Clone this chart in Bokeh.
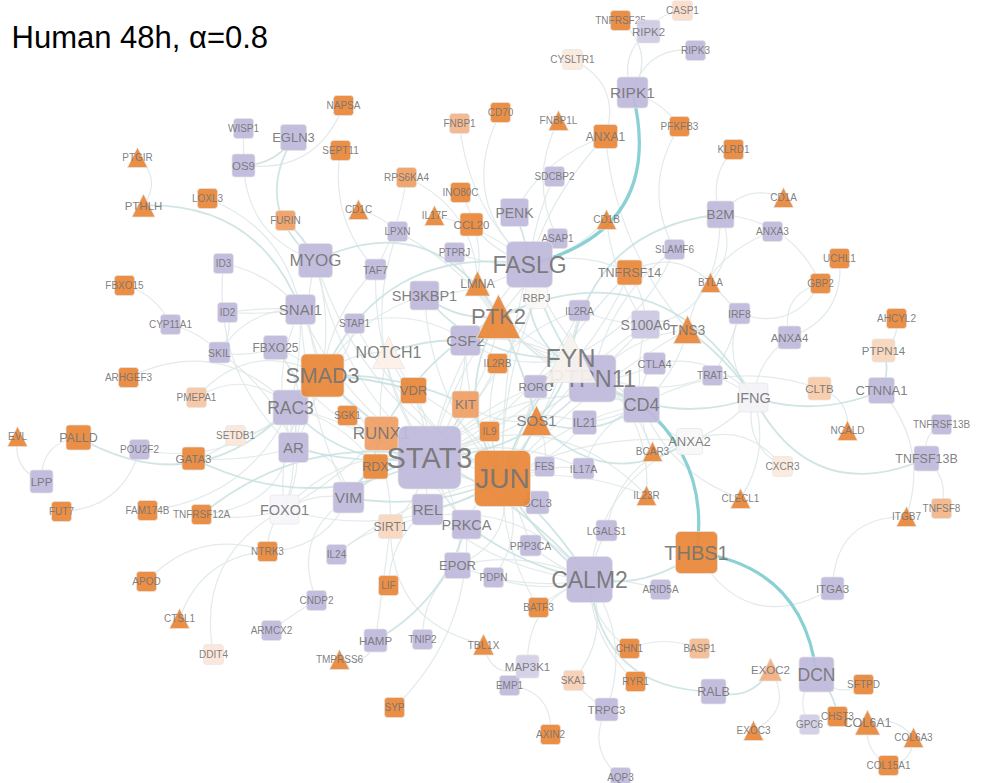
from bokeh.plotting import figure
from bokeh.models import Range1d
from bokeh.core.properties import value
from bokeh.embed import file_html
from bokeh.resources import INLINE
import math

chart_title = "Human 48h, \u03b1=0.8"

names = ["NAPSA","WISP1","EGLN3","OS9","SEPT11","PTGIR","PTHLH","LOXL3","FNBP1","RPS6KA4",
 "INO80C","CD1C","IL17F","CCL20","FURIN","LPXN","MYOG","TAF7","PTPRJ","ID3",
 "FBXO15","SH3KBP1","LMNA","SNAI1","ID2","CYP11A1","STAP1","SKIL","FBXO25","CSF2",
 "NOTCH1","SMAD3","ARHGEF3","PMEPA1","TNFRSF25","CASP1","RIPK2","RIPK3","CYSLTR1","RIPK1",
 "CD70","FNBP1L","ANXA1","PFKFB3","KLRD1","SDCBP2","PENK","B2M","CD1A","CD1B",
 "ASAP1","ANXA3","SLAMF6","FASLG","TNFRSF14","UCHL1","GBP2","BTLA","RBPJ","IL2RA",
 "IRF8","TNS3","S100A6","AHCYL2","ANXA4","PTPN14","FYN","PTPN11","CTLA4","TRAT1",
 "CLTB","CTNNA1","IFNG","RORC","IL2RB","CD4","VDR","KIT","IL21","SOS1",
 "IL9","PTK2","SGK1","RUNX1","RAC3","STAT3","AR","RDX","JUN","FES",
 "IL17A","BCL3","BCAR3","ANXA2","EVL","PALLD","SETDB1","POU2F2","GATA3","LPP",
 "FUT7","FAM174B","TNFRSF12A","FOXO1","VIM","REL","PRKCA","SIRT1","NTRK3","IL24",
 "EPOR","LIF","PDPN","APOD","CNDP2","CTSL1","ARMCX2","HAMP","TNIP2","TBL1X",
 "DDIT4","TMPRSS6","SYP","IL23R","LGALS1","PPP3CA","CLECL1","THBS1","CALM2","ARID5A",
 "BATF3","ITGA3","CXCR3","NCALD","TNFRSF13B","TNFSF13B","ITGB7","TNFSF8","CHN1","BASP1",
 "EXOC2","DCN","SFTPD","MAP3K1","EMP1","SKA1","RYR1","RALB","TRPC3","GPC6",
 "CHST3","COL6A1","COL6A3","EXOC3","AXIN2","COL15A1","AQP3"]
node_x = [343,243,293,243,340,137,143,207,459,406,
 460,358,434,471,285,397,315,375,454,223,
 124,424,477,300,227,170,354,219,275,465,
 388,322,128,196,620,682,648,695,572,632,
 500,558,605,679,733,554,514,720,783,606,
 557,772,674,529,629,839,820,710,536,579,
 739,687,645,896,789,883,570,592,654,712,
 819,881,753,535,497,641,413,465,584,536,
 489,498,347,381,290,429,293,375,502,544,
 583,537,652,689,17,78,235,139,193,41,
 61,147,201,284,348,427,466,390,267,336,
 457,388,493,146,316,179,271,375,422,483,
 213,339,394,646,606,530,740,696,589,660,
 538,832,782,847,941,926,906,941,629,699,
 770,816,863,527,509,573,635,713,606,809,
 837,867,913,753,550,888,620]
node_y = [105,128,137,165,150,157,205,198,123,177,
 192,209,215,224,220,231,260,269,252,263,
 285,295,283,309,312,324,323,352,347,340,
 352,375,377,397,20,10,31,50,59,92,
 112,120,136,126,149,176,212,214,197,219,
 238,231,249,264,272,258,283,282,297,310,
 313,329,324,318,337,350,357,378,363,375,
 388,390,397,386,363,404,390,404,422,420,
 431,316,415,433,407,457,447,466,478,466,
 468,502,451,441,436,437,435,449,458,481,
 511,510,514,509,497,509,524,526,551,554,
 565,585,577,581,600,618,630,640,639,644,
 654,659,707,495,530,545,498,552,579,589,
 607,588,466,430,424,458,516,508,648,648,
 669,674,684,666,685,680,681,691,709,724,
 716,722,737,730,734,765,777]
node_size = [20,20,26,23,20,20,23,20,20,20,
 20,20,20,23,20,20,34,21,20,20,
 20,29,25,30,20,20,20,21,24,30,
 32,43,20,20,20,20,23,20,20,31,
 20,20,24,20,20,20,28,27,20,20,
 20,20,20,46,25,20,20,20,22,21,
 21,28,28,20,23,23,50,47,22,20,
 23,26,29,23,20,36,26,27,24,30,
 20,44,20,34,35,63,30,25,56,20,
 21,23,20,26,20,25,20,20,23,23,
 20,20,20,29,31,31,29,24,20,20,
 26,20,20,20,20,20,20,23,20,21,
 20,20,20,20,21,21,20,42,46,20,
 20,23,20,20,20,25,20,20,20,20,
 23,35,20,23,20,20,20,25,23,20,
 20,25,20,20,20,20,20]

triangles = ["PTGIR","PTHLH","CD1C","IL17F","LMNA","NOTCH1","FNBP1L","CD1A","CD1B","BTLA",
 "TNS3","FYN","SOS1","PTK2","BCAR3","EVL","CTSL1","TBL1X","TMPRSS6","IL23R",
 "CLECL1","NCALD","ITGB7","EXOC2","COL6A1","COL6A3","EXOC3"]
orange = ["NAPSA","SEPT11","PTGIR","PTHLH","LOXL3","INO80C","CD1C","IL17F","CCL20","LMNA",
 "FBXO15","SMAD3","ARHGEF3","TNFRSF25","CD70","FNBP1L","ANXA1","PFKFB3","KLRD1","CD1A",
 "CD1B","TNFRSF14","UCHL1","GBP2","BTLA","TNS3","AHCYL2","IL2RB","VDR","SOS1",
 "IL9","PTK2","SGK1","RDX","JUN","BCAR3","EVL","PALLD","GATA3","FUT7",
 "FAM174B","TNFRSF12A","NTRK3","LIF","APOD","CTSL1","TBL1X","TMPRSS6","SYP","IL23R",
 "CLECL1","THBS1","BATF3","NCALD","ITGB7","CHN1","SFTPD","RYR1","CHST3","COL6A1",
 "COL6A3","EXOC3","AXIN2","COL15A1"]
tints = {"FURIN":"#ef9f63","RPS6KA4":"#ef9f63","RUNX1":"#ef9f63","KIT":"#ef9f63",
 "FNBP1":"#f3b58b","PMEPA1":"#f6c5a3","SIRT1":"#f9d6bd","CYSLTR1":"#fbe9dc","SETDB1":"#fbe6d8",
 "NOTCH1":"#fdf0e7","FOXO1":"#f6f5fa","IFNG":"#f3f2f8","ANXA2":"#f8f8f8","RBPJ":"#fbf7f4",
 "FYN":"#f8f2ee","RIPK2":"#cfcae3","S100A6":"#ccc7e2","MAP3K1":"#d3cfe6","GPC6":"#d0cce5",
 "CASP1":"#fbddc8","PTPN14":"#f9d5bb","CLTB":"#f7caa9","CXCR3":"#fbe8dc","DDIT4":"#fbe5d8",
 "TNFSF8":"#f3b58a","BASP1":"#f4ba92","SKA1":"#f8d0b4","EXOC2":"#f2ae7f"}
label_override = {"STAT3":29,"THBS1":20}

strong_edges = [("RIPK1","FASLG",100),("THBS1","DCN",66),("CD4","THBS1",44)]
medium_edges = [("EGLN3","MYOG",-54),("FURIN","MYOG",5),("OS9","EGLN3",-15),("PTHLH","SNAI1",66),
 ("MYOG","PTK2",86),("SMAD3","FASLG",88),("PALLD","RAC3",-82),("GATA3","STAT3",-60),("B2M","FYN",-80),
 ("PTK2","IFNG",120),("TNS3","IFNG",8),("IFNG","TNFSF13B",-85),("IFNG","CTNNA1",-24),("PTPN14","CTNNA1",8),
 ("JUN","CALM2",10),("JUN","CALM2",-14),("STAT3","CALM2",22),("THBS1","CALM2",24),("RALB","CALM2",74),
 ("DCN","CHST3",8),("PTK2","SOS1",6),("FASLG","FYN",-8),("PENK","FASLG",4),("PTK2","JUN",-50),
 ("SOS1","JUN",6),("SOS1","FYN",-10),("SOS1","ANXA2",-64),("CD4","PTPN11",4),("STAT3","VIM",-14),
 ("RAC3","STAT3",-40),("AR","STAT3",-14),("VIM","JUN",-24),("REL","JUN",-10),("PRKCA","CALM2",-16),
 ("SMAD3","VDR",6),("SMAD3","STAT3",-10),("NOTCH1","CSF2",8),("HAMP","PRKCA",-30),("TNFRSF12A","STAT3",55),
 ("KIT","STAT3",6),("FYN","JUN",-16),("PTPN11","STAT3",40),("SOS1","CD4",-30),("RUNX1","VIM",8),
 ("SMAD3","KIT",18),("FASLG","PTPN11",-50),("PTK2","SH3KBP1",16),("PTK2","RUNX1",-26),("FYN","SH3KBP1",40),
 ("RALB","EXOC2",-24),("PTPN11","IFNG",-40)]
thin_edges = [("PTGIR","PTHLH",22),("WISP1","OS9",0),("OS9","MYOG",-40),("NAPSA","OS9",45),("SEPT11","TAF7",-30),
 ("LOXL3","SNAI1",40),("CD1C","LPXN",6),("LPXN","PTK2",14),("RPS6KA4","TAF7",10),("RPS6KA4","LMNA",40),
 ("INO80C","LMNA",16),("FNBP1","FASLG",-30),("CD70","FASLG",-60),("FNBP1L","ASAP1",-30),("ANXA1","PENK",-24),
 ("ANXA1","FASLG",-18),("ANXA1","TNS3",-34),("RIPK1","PFKFB3",10),("TNFRSF25","RIPK1",30),("RIPK2","RIPK1",-24),
 ("RIPK3","RIPK1",-32),("CASP1","RIPK2",-10),("CYSLTR1","ANXA1",36),("PFKFB3","SLAMF6",-36),("KLRD1","B2M",-20),
 ("B2M","CD1A",24),("B2M","GBP2",36),("B2M","BTLA",22),("B2M","IL2RA",120),("ANXA3","TNS3",-36),
 ("UCHL1","ANXA4",36),("GBP2","ANXA4",-30),("IRF8","GBP2",-36),("BTLA","IRF8",0),("IRF8","IFNG",-26),
 ("TRAT1","IFNG",4),("ANXA4","IFNG",-16),("IRF8","TRAT1",6),("TNFRSF14","BTLA",30),("CD1B","S100A6",-14),
 ("AHCYL2","PTPN14",10),("CTNNA1","ITGB7",36),("TNFSF13B","TNFRSF13B",14),("TNFSF13B","TNFSF8",16),
 ("ITGB7","ITGA3",-50),("THBS1","ITGA3",-70),("CLTB","NCALD",20),("CXCR3","ANXA2",-36),("CXCR3","IFNG",28),
 ("CLECL1","IFNG",-24),("IFNG","ANXA2",10),("SFTPD","DCN",20),("GPC6","DCN",20),("COL6A1","COL6A3",16),
 ("COL15A1","COL6A1",16),("COL15A1","COL6A3",-16),("EXOC3","EXOC2",-34),("CHN1","BASP1",14),("CALM2","CHN1",-20),
 ("CALM2","RYR1",-24),("CALM2","SKA1",30),("CALM2","TRPC3",34),("CALM2","MAP3K1",-40),("CALM2","BATF3",-6),
 ("CALM2","ARID5A",6),("CALM2","LGALS1",4),("CALM2","PPP3CA",6),("CALM2","PDPN",16),("CALM2","EPOR",-24),
 ("TRPC3","AQP3",-28),("TRPC3","SKA1",4),("TBL1X","MAP3K1",-30),("EMP1","AXIN2",30),("ID3","SNAI1",16),
 ("ID3","AR",-50),("ID2","SNAI1",4),("ID2","SNAI1",-4),("ID2","SKIL",10),("SKIL","SNAI1",26),("SKIL","FBXO25",-8),
 ("FBXO25","SMAD3",4),("FBXO15","CYP11A1",14),("CYP11A1","SKIL",8),("SKIL","AR",20),("ARHGEF3","RAC3",60),
 ("PMEPA1","RAC3",36),("POU2F2","RAC3",-40),("SETDB1","GATA3",8),("EVL","LPP",-20),("PALLD","LPP",-26),
 ("FUT7","POU2F2",-36),("TNFRSF12A","FOXO1",-10),("FAM174B","RAC3",-50),("NTRK3","FOXO1",10),("APOD","NTRK3",40),
 ("CTSL1","NTRK3",36),("DDIT4","FOXO1",60),("ARMCX2","CNDP2",2),("CNDP2","VIM",44),("IL24","SIRT1",8),
 ("IL24","JUN",24),("LIF","REL",20),("SIRT1","HAMP",0),("SYP","PRKCA",-44),("TNIP2","EPOR",20),("TMPRSS6","HAMP",-20),
 ("NTRK3","VIM",-30),("SIRT1","TBL1X",-60),("MYOG","STAT3",-40),("MYOG","SMAD3",-20),("MYOG","JUN",-60),("MYOG","AR",40),
 ("SNAI1","STAT3",-30),("SNAI1","SMAD3",4),("SNAI1","RAC3",6),("SNAI1","AR",-30),("SNAI1","VIM",-20),("FBXO25","AR",30),
 ("FBXO25","STAT3",-40),("STAP1","SMAD3",14),("STAP1","CSF2",26),("STAP1","JUN",-30),("TAF7","STAT3",-30),("TAF7","SMAD3",-20),
 ("SH3KBP1","JUN",-36),("SH3KBP1","SMAD3",-26),("SH3KBP1","FASLG",-14),("CSF2","STAT3",20),("CSF2","JUN",-20),("CSF2","PTPN11",30),
 ("CSF2","FYN",-24),("PTPRJ","PTPN11",-40),("PTPRJ","FASLG",-8),("LMNA","FYN",-20),("RBPJ","STAT3",16),("RBPJ","JUN",-20),
 ("RBPJ","PTK2",6),("IL2RA","STAT3",40),("IL2RA","JUN",20),("IL2RA","IL2RB",-14),("IL2RB","STAT3",10),("IL2RB","JUN",-20),
 ("TNFRSF14","JUN",-30),("TNFRSF14","STAT3",60),("TNFRSF14","FASLG",-20),("TNFRSF14","S100A6",8),("SLAMF6","FYN",30),("SLAMF6","PTPN11",-30),
 ("S100A6","JUN",-24),("S100A6","STAT3",40),("S100A6","CD4",-8),("CTLA4","PTPN11",10),("CTLA4","CD4",-10),("CTLA4","IFNG",30),
 ("TRAT1","FYN",40),("CLTB","CD4",-40),("CD4","IL21",6),("CD4","ANXA2",-10),("CD4","JUN",-24),("CD4","STAT3",-60),("BCAR3","FYN",-26),
 ("BCAR3","CD4",6),("IL21","STAT3",-44),("IL21","JUN",16),("IL17A","STAT3",-30),("IL17A","JUN",-10),("IL17A","CD4",20),("IL9","STAT3",6),
 ("IL9","JUN",0),("FES","JUN",0),("FES","SOS1",-8),("FES","STAT3",40),("RORC","STAT3",-14),("RORC","JUN",4),("RORC","FYN",6),
 ("IL23R","STAT3",-80),("IL23R","JUN",-20),("IL23R","FYN",-50),("LGALS1","ANXA2",40),("ANXA2","CALM2",-50),("CLECL1","CD4",30),
 ("BCL3","JUN",-10),("BCL3","STAT3",-16),("PPP3CA","JUN",-4),("EPOR","JUN",-40),("EPOR","STAT3",-24),("EPOR","CALM2",-20),
 ("PDPN","JUN",-30),("BATF3","JUN",20),("REL","STAT3",4),("REL","CALM2",-30),("PRKCA","JUN",10),("PRKCA","STAT3",10),("PRKCA","RAC3",-40),
 ("SIRT1","STAT3",-12),("SIRT1","SMAD3",-40),("SIRT1","CALM2",70),("VDR","STAT3",10),("VDR","JUN",20),("VDR","SMAD3",-6),("SGK1","STAT3",-14),
 ("RDX","VIM",-6),("RDX","RAC3",-20),("RUNX1","FOXO1",10),("RUNX1","STAT3",-6),("AR","FOXO1",6),("AR","VIM",30),("AR","SMAD3",14),
 ("FOXO1","STAT3",40),("FOXO1","SMAD3",30),("FOXO1","VIM",12),("FOXO1","RAC3",-20),("FOXO1","JUN",-50),("TNFRSF12A","RAC3",-70),
 ("GATA3","AR",-10),("SETDB1","RAC3",-14),("PMEPA1","SMAD3",50),("NOTCH1","STAT3",16),("NOTCH1","SMAD3",-14),("NOTCH1","RUNX1",-8),
 ("NOTCH1","JUN",-30),("KIT","JUN",6),("KIT","SOS1",-14),("KIT","PTK2",-12),("PTK2","FYN",-20),("PTK2","PTPN11",-20),("PTK2","CD4",-30),
 ("PTK2","STAT3",-14),("FASLG","STAT3",-30),("FASLG","JUN",-16),("FASLG","CD4",-30),("ASAP1","PTK2",4),("SDCBP2","FASLG",-8),("LPXN","STAT3",-60),
 ("CCL20","FASLG",-10),("IL17F","FASLG",14),("CD1B","FASLG",14),("TNS3","CD4",14),("TNS3","PTPN11",-20),("TNS3","JUN",-20),("ANXA2","JUN",-30)]

EDGE_STYLES = [(thin_edges, "#dde6e6", 1.2, 0.85), (medium_edges, "#c9e0e1", 1.8, 0.85), (strong_edges, "#8ad0d4", 3.2, 1.0)]
PURPLE = "#bfb9db"
ORANGE = "#ea8638"

pos = {n: (x, y) for n, x, y in zip(names, node_x, node_y)}
size = dict(zip(names, node_size))

p = figure(width=1006, height=783, output_backend="svg", toolbar_location=None,
           x_range=Range1d(0, 1006), y_range=Range1d(783, 0), min_border=0)
p.axis.visible = False
p.grid.visible = False
p.outline_line_color = None

for edges, colour, lw, alpha in EDGE_STYLES:
    x0, y0, x1, y1, cx, cy = [], [], [], [], [], []
    for a, b, bend in edges:
        ax, ay = pos[a]
        bx, by = pos[b]
        dx, dy = bx - ax, by - ay
        L = math.hypot(dx, dy) or 1
        x0.append(ax); y0.append(ay); x1.append(bx); y1.append(by)
        cx.append((ax + bx) / 2 + bend * dy / L)
        cy.append((ay + by) / 2 - bend * dx / L)
    p.quadratic(x0=x0, y0=y0, x1=x1, y1=y1, cx=cx, cy=cy, line_color=colour, line_width=lw, line_alpha=alpha)

for n in sorted(names, key=lambda k: size[k]):
    x, y = pos[n]
    s = size[n]
    fill = tints.get(n, ORANGE if n in orange else PURPLE)
    border = "#e6e6e6"
    if n in triangles:
        p.patch(x=[x - s / 2, x + s / 2, x], y=[y + s / 2, y + s / 2, y - s / 2], fill_color=fill, fill_alpha=0.93,
                line_color=border, line_alpha=0.7, line_width=1)
    else:
        p.quad(left=[x - s / 2], right=[x + s / 2], top=[y - s / 2], bottom=[y + s / 2], fill_color=fill, fill_alpha=0.93,
               line_color=border, line_alpha=0.7, line_width=1, border_radius=max(3, round(s * 0.12)))
    fs = label_override.get(n, s / 2)
    p.text(x=[x], y=[y], text=[n], text_align="center", text_baseline="middle", text_font=value("Liberation Sans"),
           text_font_size=value(f"{fs:g}px"), text_color="#747474", text_alpha=0.92)

p.text(x=[11], y=[37], text=[chart_title], text_align="left", text_baseline="middle",
       text_font=value("Liberation Sans"), text_font_size=value("31px"), text_color="#000000")

open("out.html", "w").write(file_html(p, INLINE))
